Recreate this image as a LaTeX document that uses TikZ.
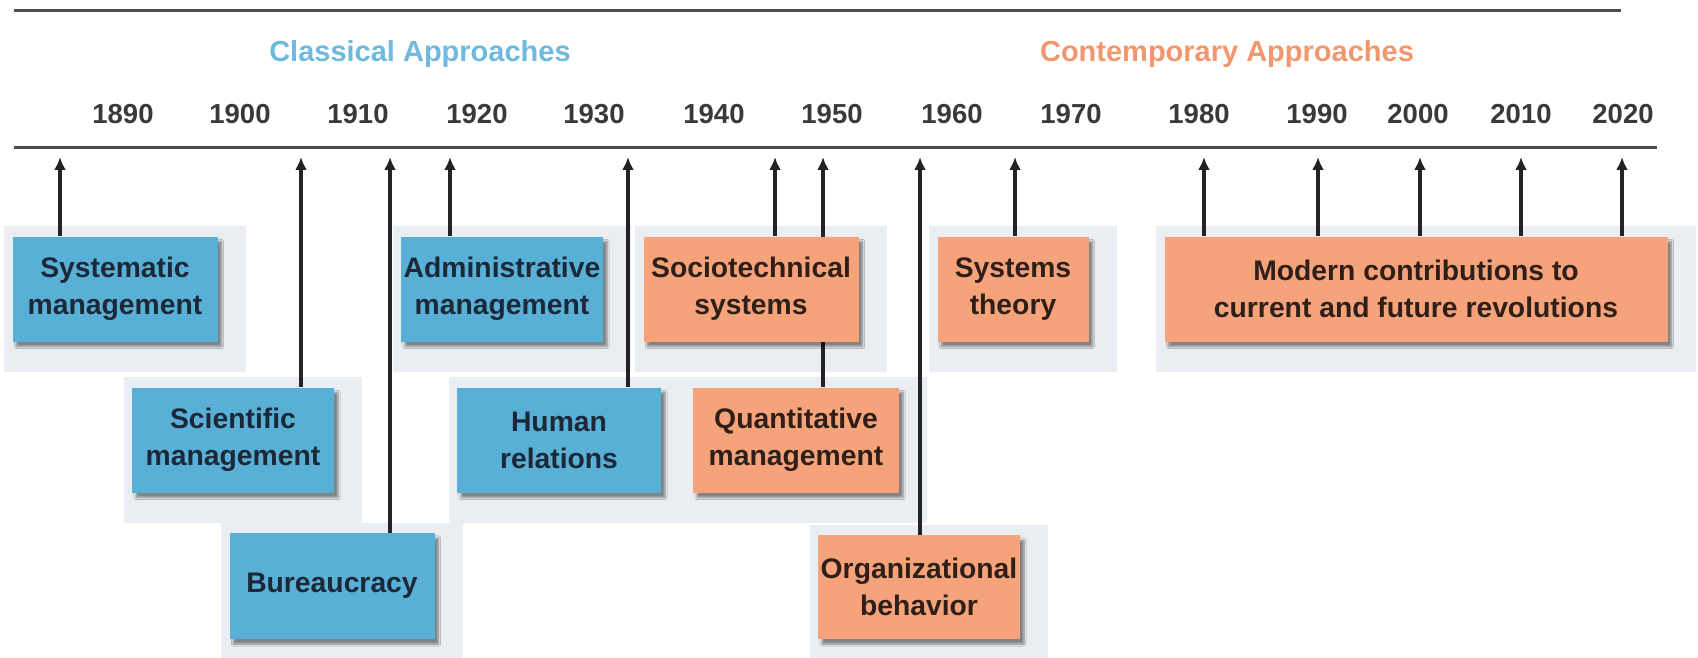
\documentclass[tikz,border=0pt]{standalone}
\usepackage{fontspec}
\setmainfont{Liberation Sans}
\usetikzlibrary{shadows.blur,arrows.meta,calc}
\definecolor{cblue}{RGB}{89,176,214}
\definecolor{corange}{RGB}{246,163,123}
\definecolor{tblue}{RGB}{110,185,222}
\definecolor{torange}{RGB}{242,150,110}
\definecolor{backd}{RGB}{234,237,241}
\definecolor{ink}{RGB}{35,35,38}
\definecolor{inkblue}{RGB}{28,40,56}
\definecolor{inkbrown}{RGB}{46,31,24}
\pgfdeclarelayer{back}
\pgfdeclarelayer{mid}
\pgfsetlayers{back,mid,main}
\begin{document}
\begin{tikzpicture}[x=1pt,y=-1pt,
  box/.style={draw=none, align=center, font=\fontsize{28.3}{37}\selectfont\bfseries, inner sep=0pt,
    blur shadow={shadow xshift=4pt, shadow yshift=-5pt, shadow blur steps=6, shadow opacity=45}},
  bluebox/.style={box, fill=cblue, text=inkblue},
  orangebox/.style={box, fill=corange, text=inkbrown},
  year/.style={font=\fontsize{27.5}{30}\selectfont\bfseries, text=ink!90},
  headline/.style={font=\fontsize{29}{32}\selectfont\bfseries},
  arr/.style={line width=3.6pt, draw=ink, -{Latex[length=13pt,width=12pt]}},
  rule/.style={line width=3pt, draw=black!70},
]
\useasboundingbox (0,0) rectangle (1698,658);

% rules
\coordinate (topL) at (14,11);
\coordinate (topR) at (1621,11);
\coordinate (axL) at (14,148);
\coordinate (axR) at (1657,148);
\draw[rule] (topL) -- (topR);
\draw[rule] (axL) -- (axR);

% headings
\node[headline, text=tblue] (cls) at (420,54) {Classical Approaches};
\node[headline, text=torange] (con) at (1227,54) {Contemporary Approaches};

% years
\node[year] (y1890) at (123,114) {1890};
\node[year] (y1900) at (240,114) {1900};
\node[year] (y1910) at (358,114) {1910};
\node[year] (y1920) at (477,114) {1920};
\node[year] (y1930) at (594,114) {1930};
\node[year] (y1940) at (714,114) {1940};
\node[year] (y1950) at (832,114) {1950};
\node[year] (y1960) at (952,114) {1960};
\node[year] (y1970) at (1071,114) {1970};
\node[year] (y1980) at (1199,114) {1980};
\node[year] (y1990) at (1317,114) {1990};
\node[year] (y2000) at (1418,114) {2000};
\node[year] (y2010) at (1521,114) {2010};
\node[year] (y2020) at (1623,114) {2020};

% boxes
\node[bluebox, minimum width=205pt, minimum height=105pt] (sys) at (115,289) {Systematic\\management};
\node[bluebox, minimum width=202pt, minimum height=105pt] (sci) at (233,440) {Scientific\\management};
\node[bluebox, minimum width=205pt, minimum height=106pt] (bur) at (332,586) {Bureaucracy};
\node[bluebox, minimum width=202pt, minimum height=105pt] (adm) at (502,289) {Administrative\\management};
\node[bluebox, minimum width=204pt, minimum height=105pt] (hum) at (559,440) {Human\\relations};
\node[orangebox, minimum width=215pt, minimum height=105pt] (soc) at (751,289) {Sociotechnical\\systems};
\node[orangebox, minimum width=206pt, minimum height=105pt] (qua) at (796,440) {Quantitative\\management};
\node[orangebox, minimum width=202pt, minimum height=104pt] (org) at (919,587) {Organizational\\behavior};
\node[orangebox, minimum width=151pt, minimum height=105pt] (sth) at (1013,289) {Systems\\theory};
\node[orangebox, minimum width=503pt, minimum height=105pt] (mod) at (1416,289) {Modern contributions to\\current and future revolutions};

% backdrops
\begin{pgfonlayer}{back}
\foreach \n in {sys,sci,bur,adm,hum,soc,qua,org,sth,mod}
  \fill[backd] ($(\n.north west)+(-8,-10)$) rectangle ($(\n.south east)+(28,30)$);
\end{pgfonlayer}

% arrow tips on the axis
\coordinate (t1) at (60,157);
\coordinate (t2) at (301,157);
\coordinate (t3) at (390,157);
\coordinate (t4) at (450,157);
\coordinate (t5) at (628,157);
\coordinate (t6) at (775,157);
\coordinate (t7) at (823,157);
\coordinate (t8) at (920,157);
\coordinate (t9) at (1015,157);
\coordinate (m1) at (1204,157);
\coordinate (m2) at (1318,157);
\coordinate (m3) at (1420,157);
\coordinate (m4) at (1521,157);
\coordinate (m5) at (1622,157);

\begin{pgfonlayer}{mid}
\draw[arr] (sys.north -| t1) -- (t1);
\draw[arr] (sci.north -| t2) -- (t2);
\draw[arr] (bur.north -| t3) -- (t3);
\draw[arr] (adm.north -| t4) -- (t4);
\draw[arr] (hum.north -| t5) -- (t5);
\draw[arr] (soc.north -| t6) -- (t6);
\draw[arr] (qua.north -| t7) -- (t7);
\draw[arr] (org.north -| t8) -- (t8);
\draw[arr] (sth.north -| t9) -- (t9);
\draw[arr] (mod.north -| m1) -- (m1);
\draw[arr] (mod.north -| m2) -- (m2);
\draw[arr] (mod.north -| m3) -- (m3);
\draw[arr] (mod.north -| m4) -- (m4);
\draw[arr] (mod.north -| m5) -- (m5);
\end{pgfonlayer}
\end{tikzpicture}
\end{document}
